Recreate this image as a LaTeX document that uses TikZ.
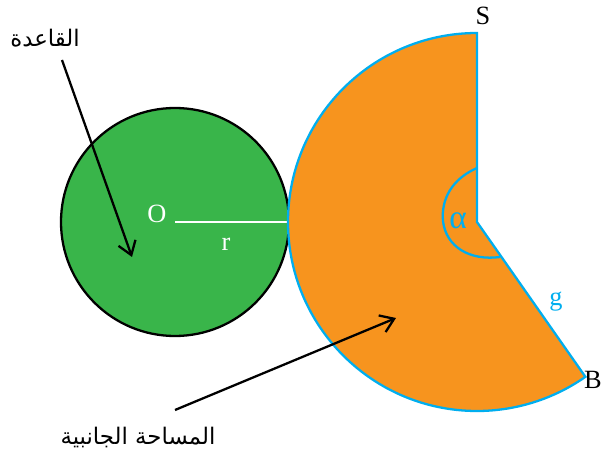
\documentclass[tikz,border=0pt]{standalone}
\usepackage{fontspec}
\usepackage{tikz}
\usetikzlibrary{arrows.meta}
\setmainfont{Liberation Serif}
\TeXXeTstate=1
\newfontfamily\arabicfont[Script=Arabic]{DejaVu Sans}
\definecolor{conegreen}{RGB}{57,181,74}
\definecolor{coneorange}{RGB}{247,148,30}
\definecolor{coneblue}{RGB}{0,174,239}

\begin{document}
\begin{tikzpicture}[x=0.02cm, y=0.02cm, >={Straight Barb[length=2.6mm,width=3.6mm]},
  lbl/.style={inner sep=0pt, font=\fontsize{15}{17}\selectfont},
  arlbl/.style={inner sep=0pt, font=\arabicfont\fontsize{13}{15}\selectfont}]
  \useasboundingbox (0,0) rectangle (603,457);
  % base disc
  \coordinate (O) at (175,235);
  \fill[conegreen, draw=black, line width=1.3pt] (O) circle[radius=114];
  \coordinate (rEnd) at (289,235);
  \draw[white, line width=1.7pt] (O) -- (rEnd);
  \node[lbl, text=white] (olbl) at (157,243) {O};
  \node[lbl, text=white] (rlbl) at (226,213) {r};
  % lateral surface
  \coordinate (C) at (477,235);
  \coordinate (S) at (477,424);
  \coordinate (B) at (585.4,80.2);
  \fill[coneorange, draw=coneblue, line width=1.3pt] (C) -- (S) arc[start angle=90, end angle=305, radius=189] -- cycle;
  \draw[coneblue, line width=1.3pt] (477,289) .. controls (452,278) and (441,258) .. (443,236)
    .. controls (446,210) and (470,196) .. (500,200);
  \node[lbl, text=coneblue, font=\fontsize{19}{21}\selectfont] (alpha) at (458,236) {α};
  \node[lbl, text=coneblue] (g) at (556,155) {g};
  \node[lbl] (slbl) at (483,441) {S};
  \node[lbl, anchor=east] (blbl) at (602,77) {B};
  % labels with arrows
  \node[arlbl] (qaida) at (45,419) {\beginR القاعدة\endR};
  \node[arlbl] (janibiya) at (138,20) {\beginR المساحة الجانبية\endR};
  \coordinate (qaidaTail) at (62,397);
  \coordinate (qaidaTip) at (132,200);
  \coordinate (janibTail) at (175,47);
  \coordinate (janibTip) at (396,139);
  \draw[->, line width=1.3pt] (qaidaTail) -- (qaidaTip);
  \draw[->, line width=1.3pt] (janibTail) -- (janibTip);
\end{tikzpicture}
\end{document}
